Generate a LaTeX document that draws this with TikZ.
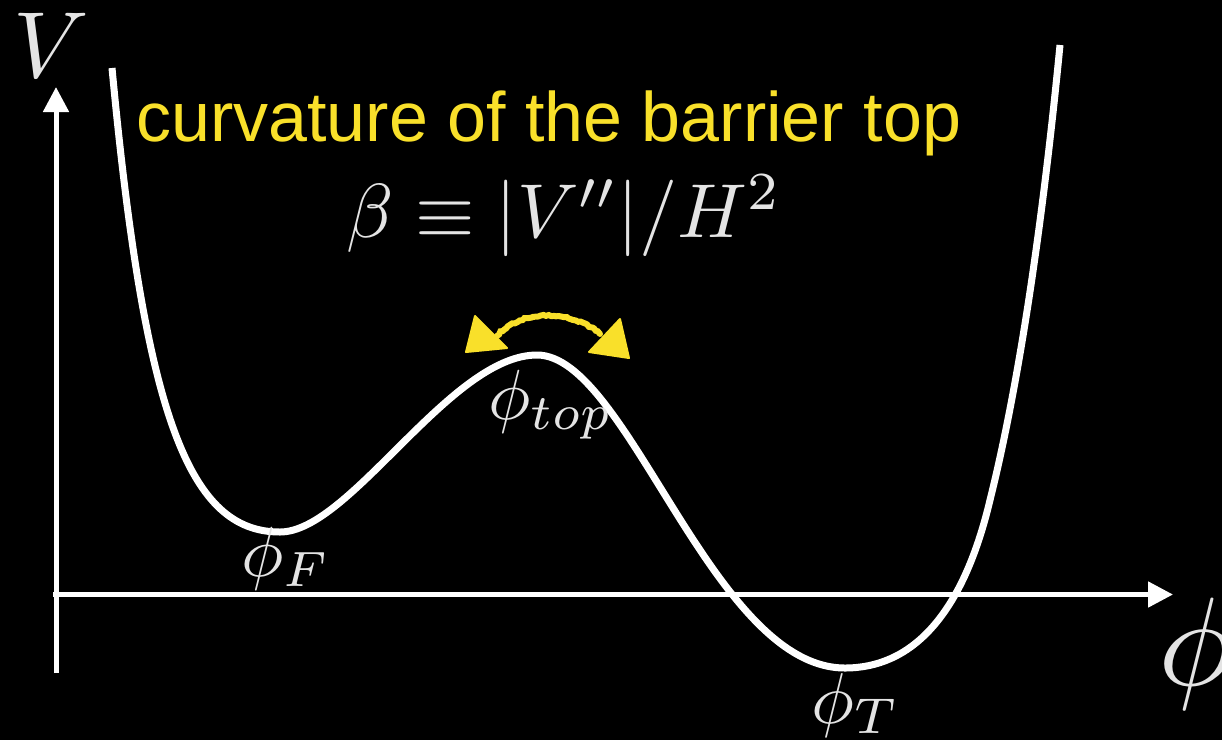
\documentclass[tikz,border=0pt]{standalone}
\usepackage{fontspec}
\newfontfamily\hel{Liberation Sans}
\usetikzlibrary{arrows.meta,decorations.pathmorphing}
\definecolor{ylw}{RGB}{249,224,42}
\definecolor{mgrey}{RGB}{228,228,228}
\tikzset{
  axis/.style={draw=white, line width=5pt, -{Triangle[length=25pt,width=25pt]}},
  pot/.style={draw=white, line width=7pt},
  mlabel/.style={text=mgrey, inner sep=0pt, anchor=base west},
  chalk/.style={draw=ylw, line width=6pt, line cap=round, decorate,
    decoration={random steps, segment length=2.5pt, amplitude=0.8pt}},
  chalkhead/.style={fill=ylw, draw=ylw, line width=2pt, line join=round}
}
\begin{document}
\begin{tikzpicture}[x=1pt,y=-1pt]
\fill[black] (0,0) rectangle (1222,740);
\useasboundingbox (0,0) rectangle (1222,740);
% axes
\coordinate (o) at (56,673);
\coordinate (ytip) at (56,87);
\coordinate (xo) at (53,594.5);
\coordinate (xtip) at (1173,594.5);
\draw[axis] (o) -- (ytip);
\draw[axis] (xo) -- (xtip);
% potential curve
\coordinate (p0) at (112,68);
\coordinate (pF) at (280,532);
\coordinate (ptop) at (537,355);
\coordinate (pT) at (845,668);
\coordinate (p4) at (990,500);
\coordinate (p5) at (1060,45);
\draw[pot] (p0) .. controls (145,420) and (190,532) .. (pF)
  .. controls (350,532) and (450,355) .. (ptop)
  .. controls (628,355) and (712,668) .. (pT)
  .. controls (910,668) and (962,618) .. (p4)
  .. controls (1015,400) and (1040,250) .. (p5);
% labels
\node[mlabel, scale=9.4] (V) at (12,77) {$V$};
\node[mlabel, scale=12.6] (phi) at (1156,685) {$\phi$};
\node[mlabel, scale=7.1] (phiF) at (240,576) {$\phi_F$};
\node[mlabel, scale=7.1] (phitop) at (487,419) {$\phi_{top}$};
\node[mlabel, scale=7.2] (phiT) at (810,723) {$\phi_T$};
\node[text=ylw, inner sep=0pt, anchor=base west] (title) at (136,141) {\hel\fontsize{70}{80}\selectfont curvature of the barrier top};
\node[text=mgrey, inner sep=0pt, anchor=base, scale=7.65] (beta) at (564,237) {$\beta\equiv|V''|/H^2$};
% yellow double arrow
\coordinate (al) at (497,336);
\coordinate (ar) at (600,334);
\draw[chalk] (al) .. controls (520,310) and (570,308) .. (ar);
\filldraw[chalkhead] (475,316) -- (466,352) -- (507,348) -- cycle;
\filldraw[chalkhead] (620,319) -- (629,358) -- (589,352) -- cycle;
\end{tikzpicture}
\end{document}
